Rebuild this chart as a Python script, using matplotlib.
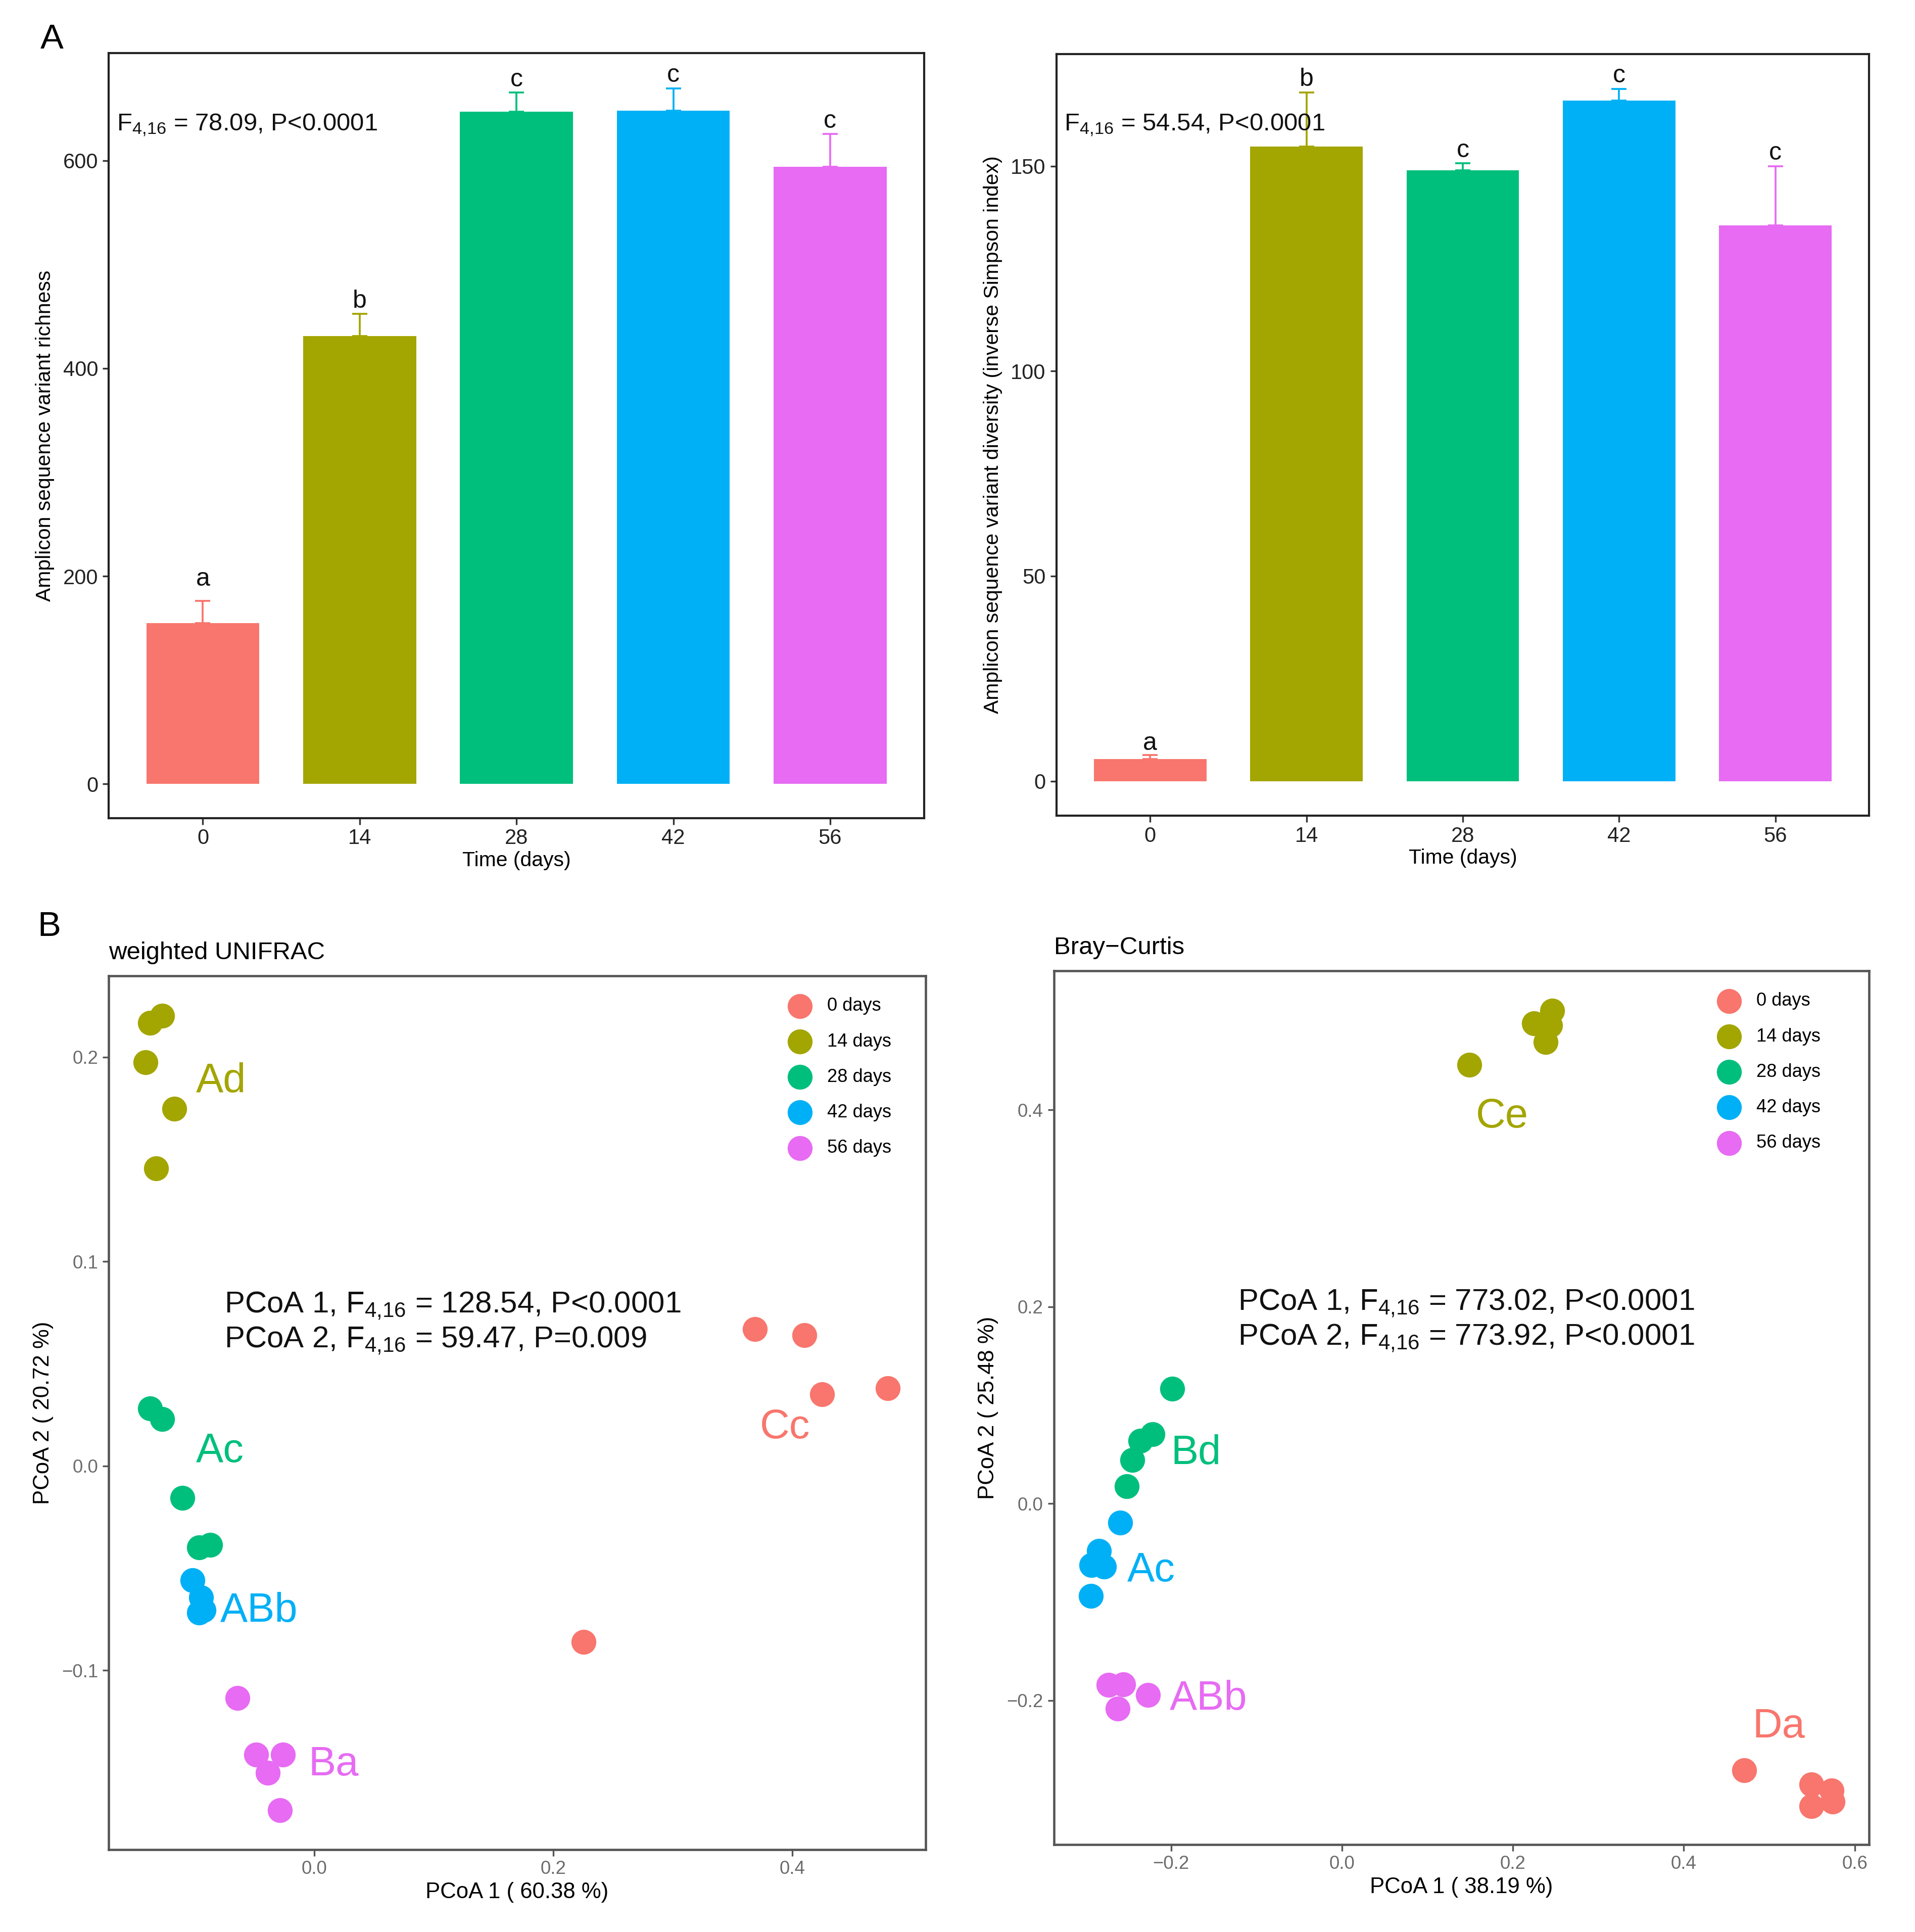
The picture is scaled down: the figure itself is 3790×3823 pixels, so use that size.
import matplotlib
matplotlib.use('Agg')
import matplotlib.pyplot as plt
import numpy as np

plt.rcParams['font.family'] = ['Liberation Sans', 'DejaVu Sans']
plt.rcParams['mathtext.fontset'] = 'custom'
plt.rcParams['mathtext.rm'] = 'Liberation Sans'
plt.rcParams['mathtext.it'] = 'Liberation Sans:italic'

# ---- data ----
days = ['0', '14', '28', '42', '56']
legend_labels = ['0 days', '14 days', '28 days', '42 days', '56 days']
colors = ['#F8766D', '#A3A500', '#00BF7D', '#00B0F6', '#E76BF3']

richness_mean = [155, 431, 647, 648, 594]
richness_se = [21.5, 21.5, 18.5, 21.5, 31.5]
richness_letters = ['a', 'b', 'c', 'c', 'c']

simpson_mean = [5.4, 154.8, 149.0, 166.0, 135.5]
simpson_se = [0.9, 13.2, 1.7, 2.9, 14.5]
simpson_letters = ['a', 'b', 'c', 'c', 'c']

# weighted UNIFRAC ordination, one list per sampling day
unifrac_pc1 = [
    [0.3686, 0.4103, 0.4252, 0.4802, 0.2252],
    [-0.1378, -0.1275, -0.1414, -0.1172, -0.1327],
    [-0.1378, -0.1275, -0.1105, -0.0967, -0.0874],
    [-0.1019, -0.0950, -0.0965, -0.0929],
    [-0.0643, -0.0488, -0.0262, -0.0391, -0.0288],
]
unifrac_pc2 = [
    [0.0671, 0.0639, 0.0352, 0.0381, -0.0861],
    [0.2168, 0.2203, 0.1974, 0.1748, 0.1455],
    [0.0281, 0.0229, -0.0155, -0.0397, -0.0387],
    [-0.0560, -0.0642, -0.0716, -0.0705],
    [-0.1135, -0.1413, -0.1413, -0.1500, -0.1684],
]
unifrac_groups = ['Cc', 'Ad', 'Ac', 'ABb', 'Ba']

# Bray-Curtis ordination
bray_pc1 = [
    [0.4706, 0.5496, 0.5728, 0.5496, 0.5740],
    [0.1492, 0.2246, 0.2459, 0.2437, 0.2382],
    [-0.1987, -0.2217, -0.2360, -0.2453, -0.2518],
    [-0.2596, -0.2842, -0.2930, -0.2783, -0.2940],
    [-0.2734, -0.2557, -0.2626, -0.2272],
]
bray_pc2 = [
    [-0.2708, -0.2854, -0.2915, -0.3076, -0.3029],
    [0.4458, 0.4880, 0.5007, 0.4858, 0.4689],
    [0.1166, 0.0704, 0.0637, 0.0442, 0.0174],
    [-0.0192, -0.0480, -0.0627, -0.0640, -0.0941],
    [-0.1843, -0.1836, -0.2082, -0.1946],
]
bray_groups = ['Da', 'Ce', 'Bd', 'Ac', 'ABb']

# where the group letters sit in each ordination
unifrac_tag_pos = [(0.3728, 0.0187), (-0.0992, 0.188), (-0.0992, 0.0071),
                   (-0.0787, -0.071), (-0.0051, -0.1461)]
bray_tag_pos = [(0.4805, -0.2269), (0.1564, 0.3928), (-0.2001, 0.0509),
                (-0.2511, -0.0684), (-0.2016, -0.1984)]

FSUB = r'F$_{\rm 4{,}16}$'


def bar_panel(ax, means, ses, letters, ylabel, stat, stat_y, ylim, yticks,
              letter_pad):
    x = np.arange(len(days))
    ax.bar(x, means, width=0.72, color=colors, zorder=2)
    for i in range(len(days)):
        ax.errorbar(x[i], means[i], yerr=[[0], [ses[i]]], color=colors[i],
                    capsize=3.6, elinewidth=0.9, capthick=0.9, zorder=3)
        ax.annotate(letters[i], (x[i], means[i] + ses[i]),
                    xytext=(0, letter_pad[i]), textcoords='offset points',
                    ha='center', va='baseline', fontsize=12, color='#111111')
    ax.text(-0.55, stat_y, stat, fontsize=11.8, va='center', ha='left',
            zorder=5, color='#111111')
    ax.set_xlim(-0.6, 4.6)
    ax.set_ylim(*ylim)
    ax.set_xticks(x)
    ax.set_xticklabels(days)
    ax.set_yticks(yticks)
    ax.set_xlabel('Time (days)', fontsize=9.8, labelpad=1)
    ax.set_ylabel(ylabel, fontsize=9.8, labelpad=4)
    ax.tick_params(labelsize=10, length=3, width=0.8, color='#333333',
                   labelcolor='#222222', pad=2)
    for sp in ax.spines.values():
        sp.set_linewidth(1.0)
        sp.set_color('#222222')


def pcoa_panel(ax, pc1, pc2, groups, tag_pos, title, xlabel, ylabel,
               stat1, stat2, stat_x, stat_y, xlim, ylim, xticks, yticks,
               legend_x):
    for i in range(len(days)):
        ax.scatter(pc1[i], pc2[i], s=140, color=colors[i], linewidths=0,
                   label=legend_labels[i], zorder=3)
        ax.text(tag_pos[i][0], tag_pos[i][1], groups[i], color=colors[i],
                fontsize=19.5, ha='left', va='center', zorder=4)
    ax.text(stat_x, stat_y[0], stat1, fontsize=14.4, ha='left', va='center',
            color='#111111')
    ax.text(stat_x, stat_y[1], stat2, fontsize=14.4, ha='left', va='center',
            color='#111111')
    ax.set_xlim(*xlim)
    ax.set_ylim(*ylim)
    ax.set_xticks(xticks)
    ax.set_yticks(yticks)
    ax.set_xlabel(xlabel, fontsize=10.5, labelpad=2)
    ax.set_ylabel(ylabel, fontsize=10.5, labelpad=4)
    ax.set_title(title, loc='left', fontsize=11.8, pad=8)
    ax.tick_params(labelsize=8.8, length=3, width=0.8, color='#555555',
                   labelcolor='#6b6b6b', pad=2)
    for sp in ax.spines.values():
        sp.set_linewidth(1.1)
        sp.set_color('#555555')
    ax.legend(loc='upper left', bbox_to_anchor=(legend_x, 0.982),
              frameon=False, fontsize=8.7, handlelength=1.0,
              handletextpad=1.0, labelspacing=0.97, borderpad=0.3,
              borderaxespad=0)


fig = plt.figure(figsize=(3790 / 300, 3823 / 300), dpi=300)

ax1 = fig.add_axes([0.0568, 0.5766, 0.4258, 0.3959])
bar_panel(ax1, richness_mean, richness_se, richness_letters,
          'Amplicon sequence variant richness',
          FSUB + ' = 78.09, P<0.0001', 634, (-32.7, 703.4), [0, 200, 400, 600],
          [7, 3, 3, 3, 3])

ax2 = fig.add_axes([0.5516, 0.5779, 0.4245, 0.3940])
bar_panel(ax2, simpson_mean, simpson_se, simpson_letters,
          'Amplicon sequence variant diversity (inverse Simpson index)',
          FSUB + ' = 54.54, P<0.0001', 160, (-8.4, 177.3), [0, 50, 100, 150],
          [2.5, 3, 3, 3, 3])

ax3 = fig.add_axes([0.0568, 0.0426, 0.4265, 0.4522])
pcoa_panel(ax3, unifrac_pc1, unifrac_pc2, unifrac_groups, unifrac_tag_pos,
           'weighted UNIFRAC', 'PCoA 1 ( 60.38 %)', 'PCoA 2 ( 20.72 %)',
           'PCoA 1, ' + FSUB + ' = 128.54, P<0.0001',
           'PCoA 2, ' + FSUB + ' = 59.47, P=0.009',
           -0.0756, (0.0784, 0.0613), (-0.1722, 0.5116), (-0.1877, 0.2397),
           [0.0, 0.2, 0.4], [-0.1, 0.0, 0.1, 0.2], 0.828)

ax4 = fig.add_axes([0.5503, 0.0452, 0.4258, 0.4522])
pcoa_panel(ax4, bray_pc1, bray_pc2, bray_groups, bray_tag_pos,
           'Bray\u2212Curtis', 'PCoA 1 ( 38.19 %)', 'PCoA 2 ( 25.48 %)',
           'PCoA 1, ' + FSUB + ' = 773.02, P<0.0001',
           'PCoA 2, ' + FSUB + ' = 773.92, P<0.0001',
           -0.122, (0.2038, 0.1683), (-0.3372, 0.617), (-0.3466, 0.541),
           [-0.2, 0.0, 0.2, 0.4, 0.6], [-0.2, 0.0, 0.2, 0.4], 0.810)

fig.text(0.0271, 0.9795, 'A', fontsize=16.5, ha='center', va='center')
fig.text(0.0258, 0.5203, 'B', fontsize=16.5, ha='center', va='center')

fig.savefig('out.png', dpi=300)
